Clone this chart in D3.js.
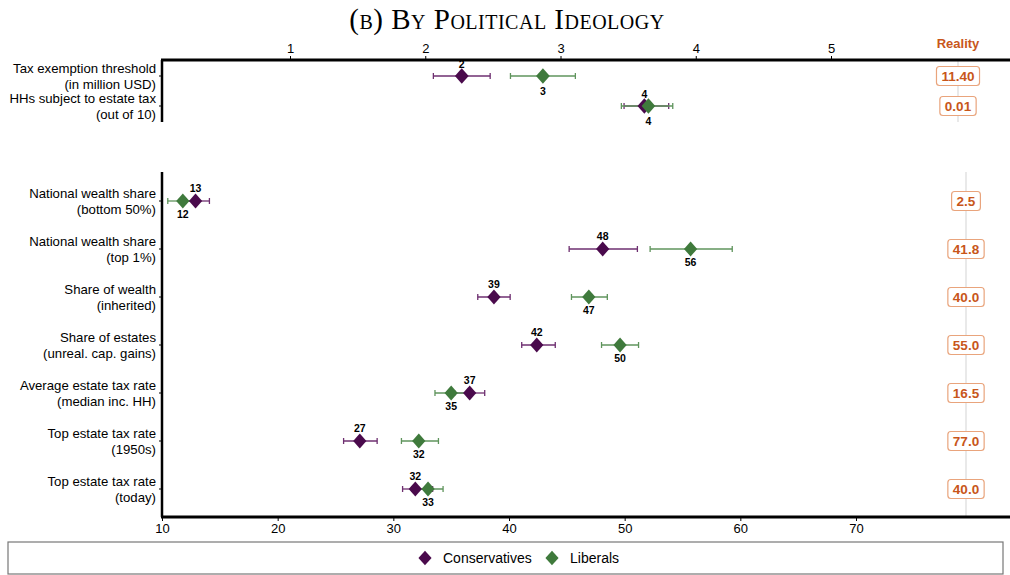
<!DOCTYPE html>
<html>
<head>
<meta charset="utf-8">
<script src="https://cdn.jsdelivr.net/npm/d3@7"></script>
<style>
  body { margin: 0; background: #fff; }
  text { font-family: "Liberation Sans", Arial, sans-serif; }
</style>
</head>
<body>
<svg id="chart" width="1010" height="575"></svg>
<script>
// data
const topRows = ['Tax exemption threshold|(in million USD)', 'HHs subject to estate tax|(out of 10)'];
const topCons = [2.27, 3.62];
const topConsLo = [2.06, 3.47];
const topConsHi = [2.48, 3.80];
const topLib = [2.87, 3.65];
const topLibLo = [2.63, 3.45];
const topLibHi = [3.11, 3.83];
const topReality = ['11.40', '0.01'];
const topTicks = [1, 2, 3, 4, 5];

const botRows = [
    'National wealth share|(bottom 50%)',
    'National wealth share|(top 1%)',
    'Share of wealth|(inherited)',
    'Share of estates|(unreal. cap. gains)',
    'Average estate tax rate|(median inc. HH)',
    'Top estate tax rate|(1950s)',
    'Top estate tax rate|(today)'
];
const botCons = [12.9, 48.1, 38.7, 42.4, 36.6, 27.1, 31.9];
const botConsLo = [12.1, 45.2, 37.3, 41.1, 35.3, 25.7, 30.8];
const botConsHi = [14.1, 51.1, 40.1, 44.0, 37.9, 28.6, 33.4];
const botLib = [11.8, 55.7, 46.9, 49.6, 35.0, 32.2, 33.0];
const botLibLo = [10.5, 52.2, 45.4, 48.0, 33.6, 30.7, 31.6];
const botLibHi = [13.0, 59.3, 48.5, 51.2, 36.4, 33.9, 34.3];
const botReality = ['2.5', '41.8', '40.0', '55.0', '16.5', '77.0', '40.0'];
const botTicks = [10, 20, 30, 40, 50, 60, 70];

const colors = {
    cons: '#4a0a4c',
    consBar: '#6e2f70',
    lib: '#3f7a3c',
    libBar: '#5f945c',
    reality: '#c8561a',
    realityBox: '#e9a47c',
    guide: '#e2e2e2'
};

const svg = d3.select('#chart');
const LEFT = 162, RIGHT = 1010;

// title
svg.append('text')
    .attr('x', 507).attr('y', 29)
    .attr('text-anchor', 'middle')
    .style('font-family', '"Liberation Serif", "DejaVu Serif", serif')
    .style('font-variant', 'small-caps')
    .style('font-size', '29px')
    .style('letter-spacing', '0.5px')
    .text('(b) By Political Ideology');

const diamond = d3.symbol().type(d3.symbolDiamond2);

function drawPanel(opt) {
    const g = svg.append('g');
    const x = opt.x;
    const y = d3.scalePoint().domain(opt.rows).range(opt.yRange);
    const n = opt.rows.length;

    // reality guide line
    g.append('line')
        .attr('x1', opt.realX).attr('x2', opt.realX)
        .attr('y1', opt.top).attr('y2', opt.bottom)
        .attr('stroke', colors.guide).attr('stroke-width', 1.5);

    // row labels + small ticks
    opt.rows.forEach(r => {
        const lines = r.split('|');
        const t = g.append('text')
            .attr('text-anchor', 'end')
            .style('font-size', '13.2px');
        t.append('tspan').attr('x', LEFT - 6).attr('y', y(r) - 3).text(lines[0]);
        t.append('tspan').attr('x', LEFT - 6).attr('y', y(r) + 13).text(lines[1]);
        g.append('line')
            .attr('x1', LEFT - 3).attr('x2', LEFT)
            .attr('y1', y(r)).attr('y2', y(r))
            .attr('stroke', '#000');
    });

    // series: error bars, diamonds, value labels
    const series = [
        {v: opt.cons, lo: opt.consLo, hi: opt.consHi, c: colors.cons, bar: colors.consBar, dy: opt.dyAbove},
        {v: opt.lib, lo: opt.libLo, hi: opt.libHi, c: colors.lib, bar: colors.libBar, dy: opt.dyBelow}
    ];
    series.forEach(s => {
        d3.range(n).forEach(i => {
            const yy = y(opt.rows[i]);
            g.append('line')
                .attr('x1', x(s.lo[i])).attr('x2', x(s.hi[i]))
                .attr('y1', yy).attr('y2', yy)
                .attr('stroke', s.bar).attr('stroke-width', 1.3);
            [s.lo[i], s.hi[i]].forEach(e => {
                g.append('line')
                    .attr('x1', x(e)).attr('x2', x(e))
                    .attr('y1', yy - 3).attr('y2', yy + 3)
                    .attr('stroke', s.bar).attr('stroke-width', 1.3);
            });
        });
    });
    series.forEach(s => {
        d3.range(n).forEach(i => {
            const yy = y(opt.rows[i]);
            g.append('path')
                .attr('d', diamond.size(opt.dSize)())
                .attr('transform', `translate(${x(s.v[i])},${yy}) scale(1,1.12)`)
                .attr('fill', s.c);
            g.append('text')
                .attr('x', x(s.v[i])).attr('y', yy + s.dy)
                .attr('text-anchor', 'middle')
                .style('font-size', '10.5px').style('font-weight', 'bold')
                .text(d3.format('.0f')(s.v[i]));
        });
    });

    // reality boxes
    opt.reality.forEach((r, i) => {
        const yy = y(opt.rows[i]);
        const t = g.append('text')
            .attr('x', opt.realX).attr('y', yy + 5)
            .attr('text-anchor', 'middle')
            .style('font-size', '13.5px').style('font-weight', 'bold')
            .attr('fill', colors.reality)
            .text(r);
        const w = t.node().getComputedTextLength() + 10;
        g.insert('rect', () => t.node())
            .attr('x', opt.realX - w / 2).attr('y', yy - 9.5)
            .attr('width', w).attr('height', 19)
            .attr('rx', 3)
            .attr('fill', '#fff')
            .attr('stroke', colors.realityBox).attr('stroke-width', 1.2);
    });

    // left axis line
    g.append('line')
        .attr('x1', LEFT).attr('x2', LEFT)
        .attr('y1', opt.top).attr('y2', opt.bottom)
        .attr('stroke', '#000').attr('stroke-width', 2.5);

    return g;
}

// top panel
const xTop = d3.scaleLinear().domain([1, 5]).range([290, 831]);
drawPanel({
    x: xTop, rows: topRows, yRange: [76, 106], top: 60, bottom: 122,
    cons: topCons, consLo: topConsLo, consHi: topConsHi,
    lib: topLib, libLo: topLibLo, libHi: topLibHi,
    reality: topReality, realX: 958, dSize: 120, dyAbove: -8, dyBelow: 19
});
const axTop = svg.append('g')
    .attr('transform', 'translate(0,60)')
    .call(d3.axisTop(xTop).tickValues(topTicks).tickSize(4).tickPadding(3).tickFormat(d3.format('d')));
axTop.select('.domain').remove();
axTop.selectAll('text').style('font-size', '13px').attr('font-family', null);
svg.append('line')
    .attr('x1', LEFT - 1).attr('x2', RIGHT)
    .attr('y1', 60).attr('y2', 60)
    .attr('stroke', '#000').attr('stroke-width', 3);
svg.append('text')
    .attr('x', 958).attr('y', 48)
    .attr('text-anchor', 'middle')
    .style('font-size', '13px').style('font-weight', 'bold')
    .attr('fill', colors.reality)
    .text('Reality');

// bottom panel
const xBot = d3.scaleLinear().domain([10, 70]).range([162, 856]);
drawPanel({
    x: xBot, rows: botRows, yRange: [201, 489], top: 172, bottom: 517,
    cons: botCons, consLo: botConsLo, consHi: botConsHi,
    lib: botLib, libLo: botLibLo, libHi: botLibHi,
    reality: botReality, realX: 966, dSize: 112, dyAbove: -9, dyBelow: 17
});
const axBot = svg.append('g')
    .attr('transform', 'translate(0,517)')
    .call(d3.axisBottom(xBot).tickValues(botTicks).tickSize(4).tickPadding(3).tickFormat(d3.format('d')));
axBot.select('.domain').remove();
axBot.selectAll('text').style('font-size', '13px').attr('font-family', null);
svg.append('line')
    .attr('x1', LEFT - 1).attr('x2', RIGHT)
    .attr('y1', 517).attr('y2', 517)
    .attr('stroke', '#000').attr('stroke-width', 3);

// legend
const legend = svg.append('g');
legend.append('rect')
    .attr('x', 8).attr('y', 542).attr('width', 995).attr('height', 32)
    .attr('fill', '#fff').attr('stroke', '#777').attr('stroke-width', 1.2);
const legendItems = [
    {label: 'Conservatives', c: colors.cons, x: 425},
    {label: 'Liberals', c: colors.lib, x: 552}
];
legendItems.forEach(d => {
    legend.append('path')
        .attr('d', diamond.size(110)())
        .attr('transform', `translate(${d.x},558) scale(1,1.12)`)
        .attr('fill', d.c);
    legend.append('text')
        .attr('x', d.x + 18).attr('y', 563)
        .style('font-size', '14px')
        .text(d.label);
});
</script>
</body>
</html>
